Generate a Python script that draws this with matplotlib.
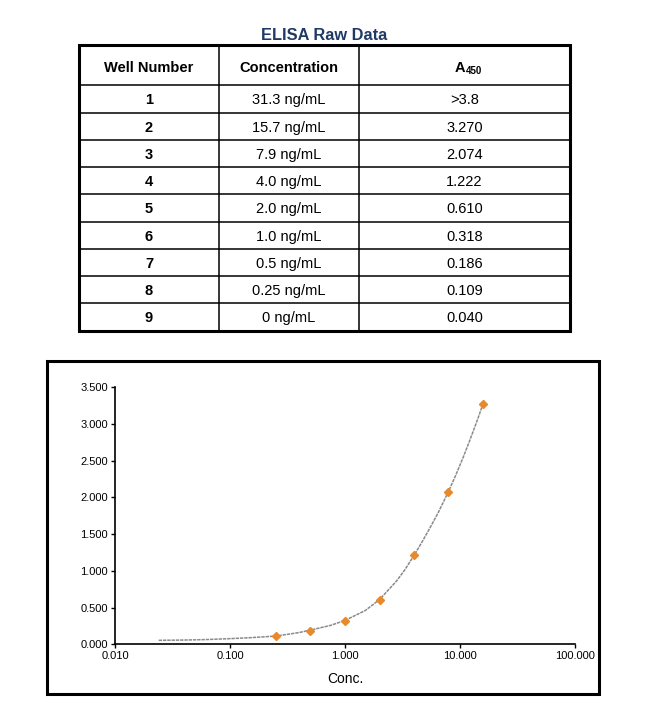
import matplotlib
matplotlib.use("Agg")
import matplotlib.pyplot as plt
from matplotlib.ticker import FixedLocator, FuncFormatter, NullLocator
import numpy as np

plt.rcParams['font.family'] = ['Liberation Sans', 'DejaVu Sans']

# table data
headers = ['Well Number', 'Concentration', 'A']
wells = ['1', '2', '3', '4', '5', '6', '7', '8', '9']
conc_labels = ['31.3 ng/mL', '15.7 ng/mL', '7.9 ng/mL', '4.0 ng/mL', '2.0 ng/mL',
               '1.0 ng/mL', '0.5 ng/mL', '0.25 ng/mL', '0 ng/mL']
a450_labels = ['>3.8', '3.270', '2.074', '1.222', '0.610', '0.318', '0.186', '0.109', '0.040']

# points on the standard curve plot
conc = [15.7, 7.9, 4.0, 2.0, 1.0, 0.5, 0.25]
a450 = [3.270, 2.074, 1.222, 0.610, 0.318, 0.186, 0.109]

# fitted curve
fit_x = [0.024, 0.04, 0.06, 0.1, 0.15, 0.25, 0.4, 0.6, 0.75, 1.0, 1.5, 2.0,
         2.8, 3.3, 4.0, 4.7, 5.5, 6.5, 7.9, 9.2, 10.7, 12.0, 13.5, 14.5, 15.7, 16.2]
fit_y = [0.054, 0.058, 0.064, 0.077, 0.090, 0.112, 0.160, 0.222, 0.258, 0.325,
         0.460, 0.610, 0.860, 1.010, 1.215, 1.400, 1.590, 1.800, 2.074, 2.305,
         2.553, 2.753, 2.967, 3.100, 3.255, 3.320]

W, H = 650, 709
fig = plt.figure(figsize=(W / 100, H / 100), dpi=100)

# background layer in pixel coordinates
bg = fig.add_axes([0, 0, 1, 1])
bg.set_xlim(0, W)
bg.set_ylim(H, 0)
bg.axis('off')

col_x = [79, 219, 359, 570]
row_y = [45] + list(np.linspace(85.3, 330.5, 10))
left, right, top, bottom = col_x[0], col_x[-1], row_y[0], row_y[-1]

bg.text((left + right) / 2, 36, 'ELISA Raw Data', ha='center', va='center',
        fontsize=11.8, fontweight='bold', color='#1f3a64')

for y in row_y[1:-1]:
    bg.plot([left, right], [y, y], color='black', lw=1.1)
for x in col_x[1:-1]:
    bg.plot([x, x], [top, bottom], color='black', lw=1.1)
bg.add_patch(plt.Rectangle((left, top), right - left, bottom - top,
                           fill=False, ec='black', lw=2.2))

centers = [(col_x[i] + col_x[i + 1]) / 2 for i in range(3)]
hy = (row_y[0] + row_y[1]) / 2 + 1.5
vb = 'center_baseline'
bg.text(centers[0], hy, headers[0], ha='center', va=vb, fontsize=10.5, fontweight='bold')
bg.text(centers[1], hy, headers[1], ha='center', va=vb, fontsize=10.5, fontweight='bold')
bg.text(centers[2] + 1, hy, headers[2], ha='right', va=vb, fontsize=10.5, fontweight='bold')
bg.text(centers[2] + 1, hy + 3, '450', ha='left', va=vb, fontsize=7, fontweight='bold')

for i in range(len(wells)):
    cy = (row_y[i + 1] + row_y[i + 2]) / 2
    bg.text(centers[0], cy, wells[i], ha='center', va=vb, fontsize=10.5, fontweight='bold')
    bg.text(centers[1], cy, conc_labels[i], ha='center', va=vb, fontsize=10.5)
    bg.text(centers[2], cy, a450_labels[i], ha='center', va=vb, fontsize=10.5)

# chart frame
bg.add_patch(plt.Rectangle((47, 361), 552, 333, fill=False, ec='black', lw=2.2))

# standard curve
ax = fig.add_axes([115 / W, (H - 644.3) / H, 460 / W, 257 / H])
ax.set_xscale('log')
ax.set_xlim(0.01, 100)
ax.set_ylim(0, 3.5)
ax.plot(fit_x, fit_y, color='#8a8a8a', lw=1.1, ls=(0, (2.2, 0.6)))
ax.plot(conc, a450, ls='none', marker='D', ms=4.5, color='#e8892c', mec='#e8892c')

ax.xaxis.set_major_locator(FixedLocator([0.01, 0.1, 1, 10, 100]))
ax.xaxis.set_minor_locator(NullLocator())
ax.yaxis.set_major_locator(FixedLocator(np.arange(0, 3.51, 0.5)))
fmt = FuncFormatter(lambda v, p: '{:.3f}'.format(v))
ax.xaxis.set_major_formatter(fmt)
ax.yaxis.set_major_formatter(fmt)
ax.tick_params(direction='out', length=3, width=1, labelsize=8, pad=2)
ax.spines['top'].set_visible(False)
ax.spines['right'].set_visible(False)
ax.spines['left'].set_linewidth(1.2)
ax.spines['bottom'].set_linewidth(1.2)
ax.patch.set_alpha(0)
ax.set_xlabel('Conc.', fontsize=10, labelpad=8)

fig.savefig('out.png', dpi=100)
